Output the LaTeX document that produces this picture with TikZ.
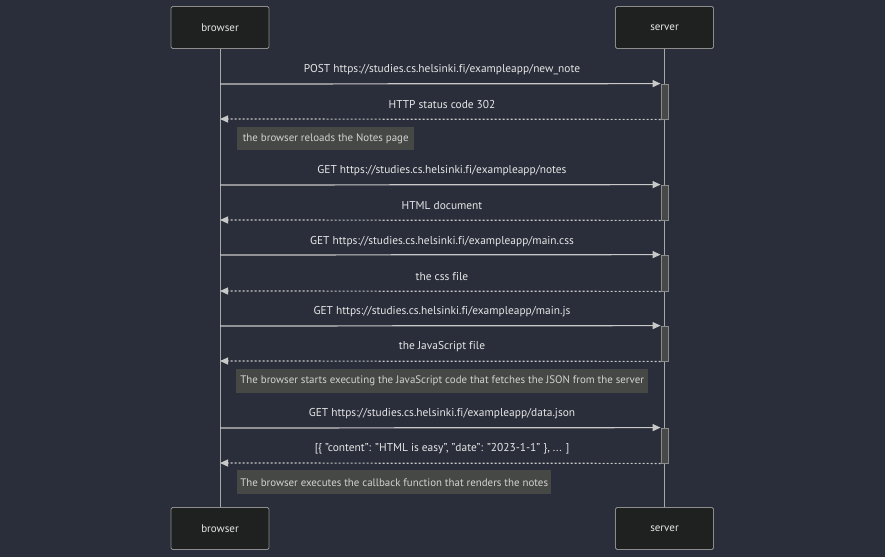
\documentclass[tikz,border=0pt]{standalone}
\usepackage{fontspec}
\setmainfont{PT Sans}[Ligatures={NoCommon}]
\usetikzlibrary{arrows.meta}
\definecolor{bgc}{HTML}{2A2E3A}
\definecolor{actorfill}{HTML}{1F2020}
\definecolor{actorline}{HTML}{8C8C8C}
\definecolor{lifeline}{HTML}{A8A8A8}
\definecolor{msgline}{HTML}{C8C8C8}
\definecolor{msgtext}{HTML}{E6E6E6}
\definecolor{notefill}{HTML}{464846}
\definecolor{notetext}{HTML}{D2D2D2}
\definecolor{actfill}{HTML}{474949}
\tikzset{
  actor/.style={draw=actorline, fill=actorfill, rounded corners=1.5pt, line width=0.8pt,
    minimum width=98pt, minimum height=42pt, inner sep=0pt, text=msgtext, font=\fontsize{11}{13}\selectfont},
  life/.style={draw=lifeline, line width=0.8pt},
  actbar/.style={draw=actorline, fill=actfill, line width=0.8pt, minimum width=7pt, inner sep=0pt},
  msg/.style={draw=msgline, line width=1.2pt, -{Triangle[length=8pt,width=7pt]}},
  ret/.style={draw=msgline, line width=1.2pt, dash pattern=on 2pt off 2pt, -{Triangle[length=8pt,width=7pt]}},
  lbl/.style={text=msgtext, font=\fontsize{11.4}{13}\selectfont, inner sep=0pt},
  note/.style={fill=notefill, anchor=north west, inner sep=0pt},
  notelbl/.style={text=notetext, font=\fontsize{10.9}{13}\selectfont, inner sep=0pt},
}
\begin{document}
\begin{tikzpicture}[x=1pt, y=-1pt]
\fill[bgc] (0,0) rectangle (885,557);
\useasboundingbox (0,0) rectangle (885,557);

% participants
\node[actor] (bt) at (220,27.5) {browser};
\node[actor] (st) at (664.5,27.5) {server};
\node[actor] (bb) at (220,528.5) {browser};
\node[actor] (sb) at (664.5,528.5) {server};

% lifelines
\draw[life] (bt.south) -- (bb.north);
\draw[life] (st.south) -- (sb.north);

% activation bars on the server lifeline
\node[actbar, minimum height=35pt] (a1) at (664.5,101.5) {};
\node[actbar, minimum height=35pt] (a2) at (664.5,202.5) {};
\node[actbar, minimum height=36pt] (a3) at (664.5,273) {};
\node[actbar, minimum height=35pt] (a4) at (664.5,343.5) {};
\node[actbar, minimum height=35pt] (a5) at (664.5,445.5) {};

% browser-side end points
\coordinate (p1) at (220,84);
\coordinate (r1) at (220,119);
\coordinate (p2) at (220,185);
\coordinate (r2) at (220,220);
\coordinate (p3) at (220,255);
\coordinate (r3) at (220,291);
\coordinate (p4) at (220,326);
\coordinate (r4) at (220,361);
\coordinate (p5) at (220,428);
\coordinate (r5) at (220,463);

% requests and responses
\draw[msg] (p1) -- (a1.north west);
\node[lbl] (m1) at (442,70) {POST https://studies.cs.helsinki.fi/exampleapp/new\_note};
\draw[ret] (a1.south west) -- (r1);
\node[lbl] (m2) at (442,104.5) {HTTP status code 302};

\node[note, minimum width=177pt, minimum height=23.5pt] (n1) at (237,126.5) {};
\node[notelbl] at (n1.center) {the browser reloads the Notes page};

\draw[msg] (p2) -- (a2.north west);
\node[lbl] (m3) at (442,170.5) {GET https://studies.cs.helsinki.fi/exampleapp/notes};
\draw[ret] (a2.south west) -- (r2);
\node[lbl] (m4) at (442,206) {HTML document};

\draw[msg] (p3) -- (a3.north west);
\node[lbl] (m5) at (442,241.5) {GET https://studies.cs.helsinki.fi/exampleapp/main.css};
\draw[ret] (a3.south west) -- (r3);
\node[lbl] (m6) at (442,276.5) {the css file};

\draw[msg] (p4) -- (a4.north west);
\node[lbl] (m7) at (442,311.5) {GET https://studies.cs.helsinki.fi/exampleapp/main.js};
\draw[ret] (a4.south west) -- (r4);
\node[lbl] (m8) at (442,346.5) {the JavaScript file};

\node[note, minimum width=412pt, minimum height=24pt] (n2) at (236,368.5) {};
\node[notelbl] at (n2.center) {The browser starts executing the JavaScript code that fetches the JSON from the server};

\draw[msg] (p5) -- (a5.north west);
\node[lbl] (m9) at (442,413.5) {GET https://studies.cs.helsinki.fi/exampleapp/data.json};
\draw[ret] (a5.south west) -- (r5);
\node[lbl] (m10) at (442,448.5) {[\{ \symbol{34}content\symbol{34}: \symbol{34}HTML is easy\symbol{34}, \symbol{34}date\symbol{34}: \symbol{34}2023-1-1\symbol{34} \}, ... ]};

\node[note, minimum width=314pt, minimum height=24pt] (n3) at (237,470) {};
\node[notelbl] at (n3.center) {The browser executes the callback function that renders the notes};
\end{tikzpicture}
\end{document}
